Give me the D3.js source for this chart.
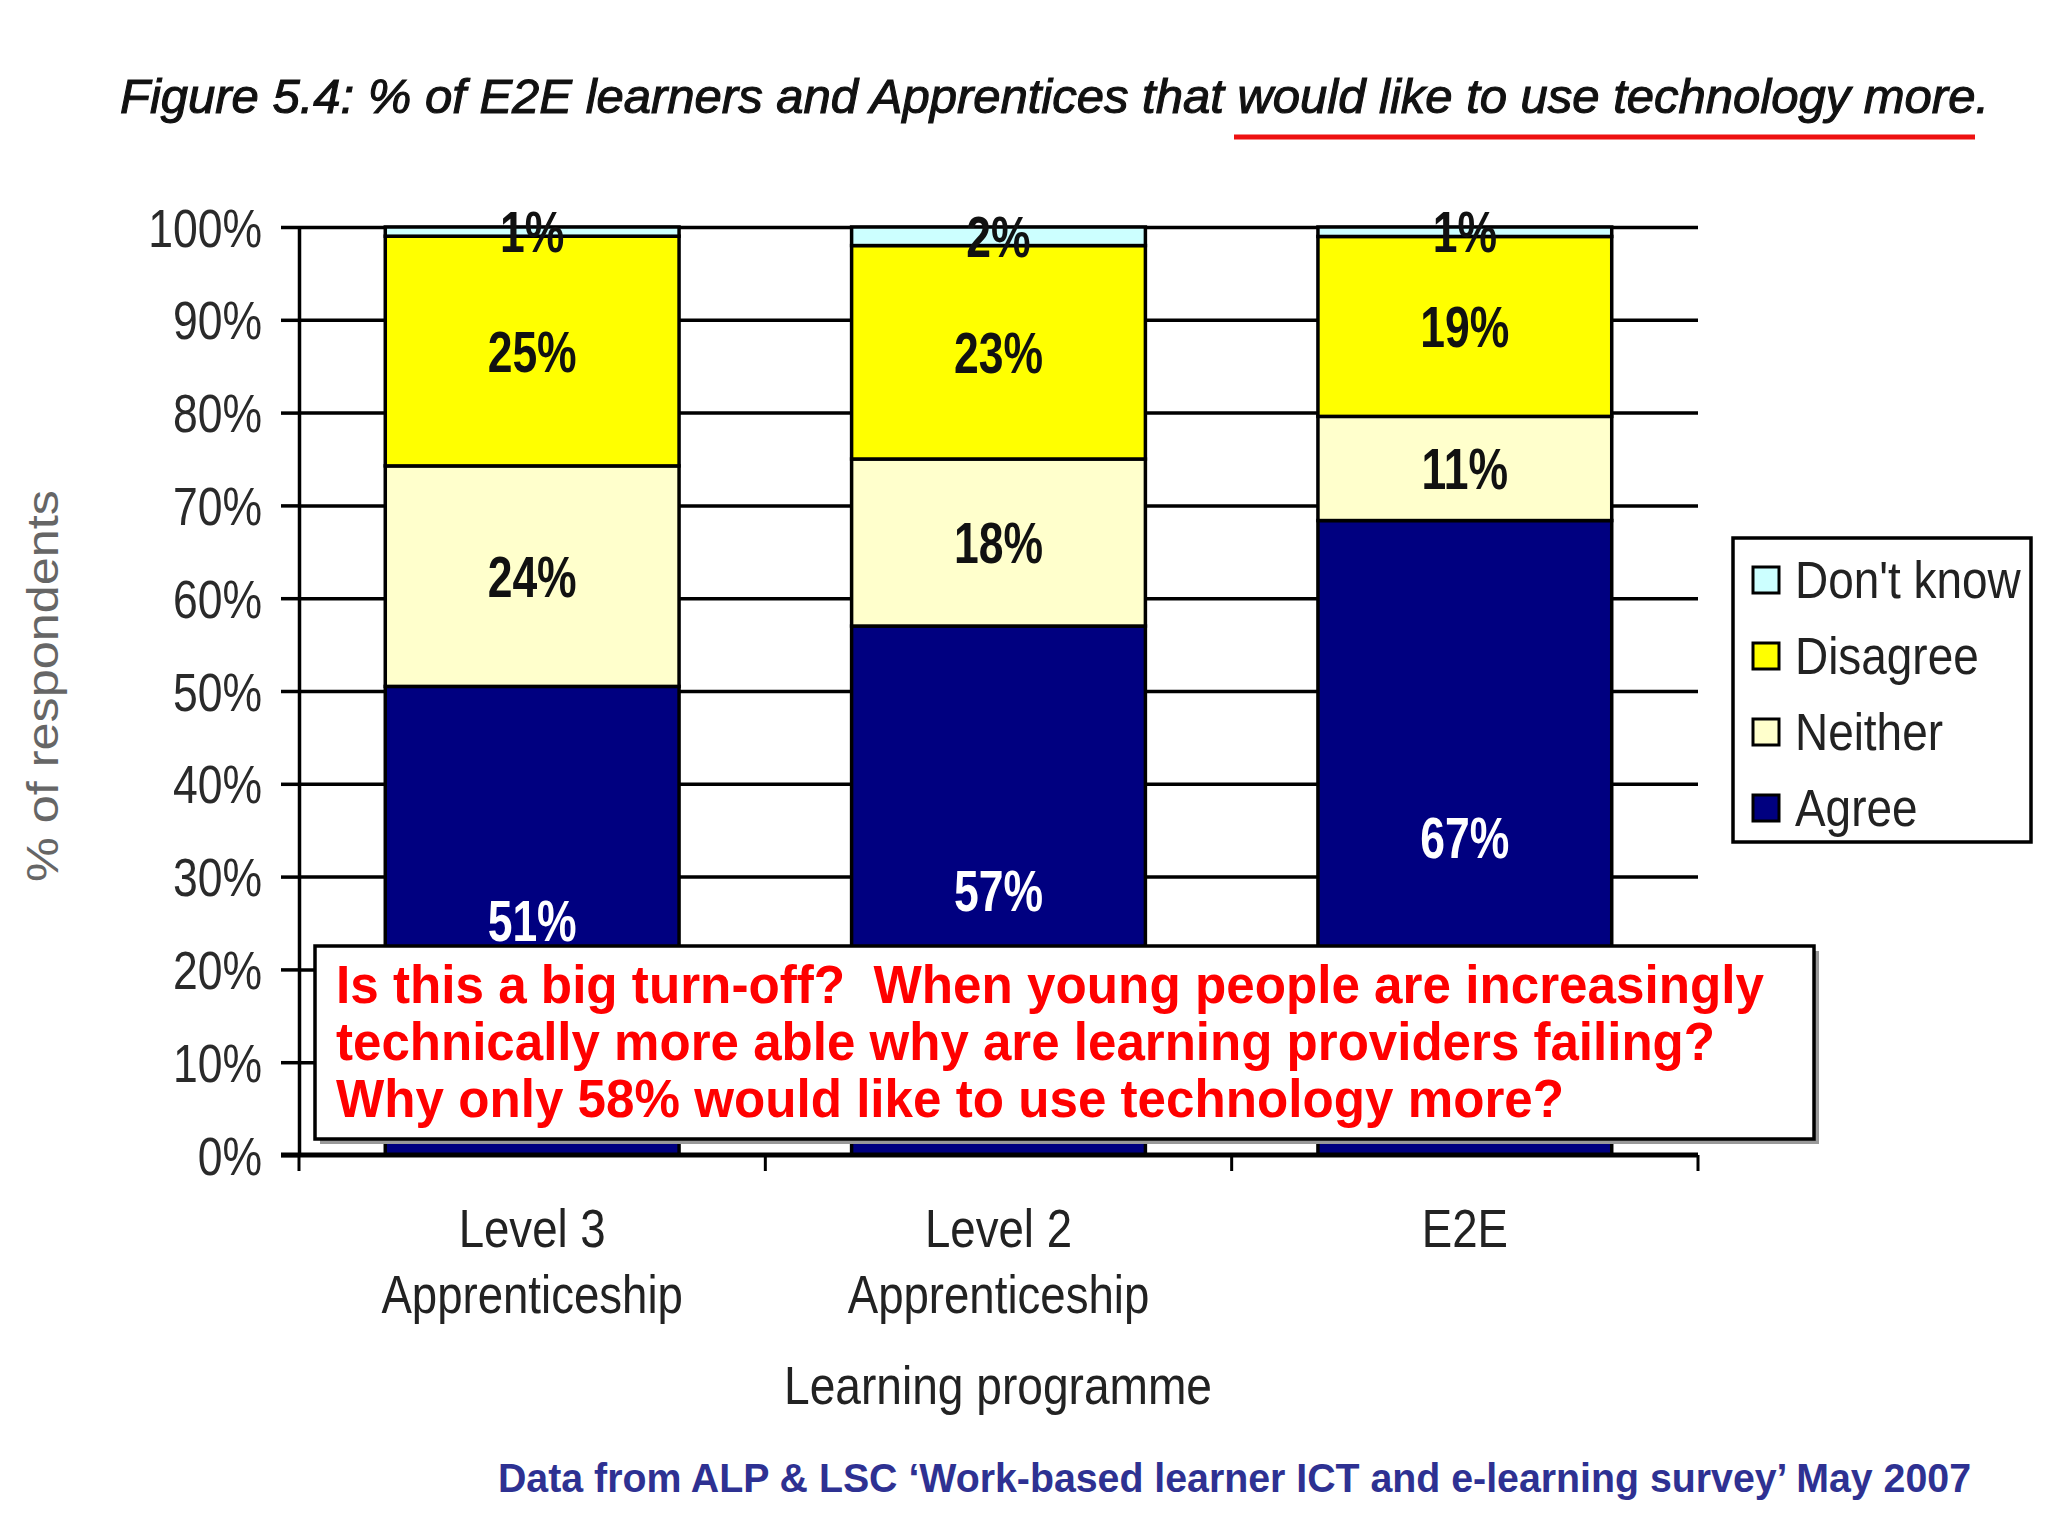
<!DOCTYPE html>
<html>
<head>
<meta charset="utf-8">
<script src="https://cdn.jsdelivr.net/npm/d3@7"></script>
<style>
  html, body { margin: 0; padding: 0; background: #fff; }
  svg { display: block; font-family: Arial, "Liberation Sans", sans-serif; }
</style>
</head>
<body>
<svg id="chart" width="2048" height="1536"></svg>
<script>
// ---------------- data ----------------
const categories = ["Level 3 Apprenticeship", "Level 2 Apprenticeship", "E2E"];
const categoryLines = [["Level 3", "Apprenticeship"], ["Level 2", "Apprenticeship"], ["E2E"]];
const seriesKeys = ["Agree", "Neither", "Disagree", "Don't know"];
const agree = [51, 57, 67];
const neither = [24, 18, 11];
const disagree = [25, 23, 19];
const dontKnow = [1, 2, 1];
const seriesColors = ["#000080", "#FFFFCC", "#FFFF00", "#CCFFFF"];
const labelColors = ["#ffffff", "#111111", "#111111", "#111111"];
const legendOrder = ["Don't know", "Disagree", "Neither", "Agree"];
const yTicks = [0, 0.1, 0.2, 0.3, 0.4, 0.5, 0.6, 0.7, 0.8, 0.9, 1.0];
const titleText = "Figure 5.4: % of E2E learners and Apprentices that would like to use technology more.";
const yTitle = "% of respondents";
const xTitle = "Learning programme";
const noteLines = [
  "Is this a big turn-off?  When young people are increasingly",
  "technically more able why are learning providers failing?",
  "Why only 58% would like to use technology more?"
];
const sourceText = "Data from ALP & LSC \u2018Work-based learner ICT and e-learning survey\u2019 May 2007";

(function () {
// table for the stack
const table = categories.map((c, i) => ({
  cat: c, "Agree": agree[i], "Neither": neither[i], "Disagree": disagree[i], "Don't know": dontKnow[i]
}));

// ---------------- layout ----------------
const svg = d3.select("#chart");
const pLeft = 299, pRight = 1698, pTop = 227, pBottom = 1155;

const x = d3.scaleBand().domain(categories).range([pLeft, pRight]).paddingInner(0.37).paddingOuter(0.185);
const y = d3.scaleLinear().domain([0, 1]).range([pBottom, pTop]);
const color = d3.scaleOrdinal().domain(seriesKeys).range(seriesColors);
const labColor = d3.scaleOrdinal().domain(seriesKeys).range(labelColors);

function squeeze(sel, factor) {
  sel.each(function () {
    const w = this.getComputedTextLength();
    d3.select(this).attr("textLength", w * factor).attr("lengthAdjust", "spacingAndGlyphs");
  });
}
function fitTo(sel, width) {
  sel.attr("textLength", width).attr("lengthAdjust", "spacingAndGlyphs");
}

// title
svg.append("text")
  .attr("x", 120).attr("y", 113)
  .attr("font-size", 49).attr("font-style", "italic")
  .attr("fill", "#111").attr("stroke", "#111").attr("stroke-width", 1.1)
  .text(titleText).call(fitTo, 1869);
svg.append("line")
  .attr("x1", 1234).attr("x2", 1975).attr("y1", 137).attr("y2", 137)
  .attr("stroke", "#ee1111").attr("stroke-width", 5);

// gridlines
const grid = svg.append("g").attr("transform", `translate(${pLeft},0)`)
  .call(d3.axisLeft(y).tickValues(yTicks.slice(1)).tickSize(-(pRight - pLeft)).tickFormat(""));
grid.select(".domain").remove();
grid.selectAll(".tick line").attr("stroke", "#000").attr("stroke-width", 3.5);

// bars
const stacked = d3.stack().keys(seriesKeys).offset(d3.stackOffsetExpand)(table);
const layers = svg.append("g").selectAll("g").data(stacked).join("g")
  .attr("fill", d => color(d.key));
layers.selectAll("rect").data(d => d).join("rect")
  .attr("x", d => x(d.data.cat))
  .attr("width", x.bandwidth())
  .attr("y", d => y(d[1]))
  .attr("height", d => y(d[0]) - y(d[1]))
  .attr("stroke", "#000").attr("stroke-width", 3.5);

// y axis (ticks + labels)
const yAxis = svg.append("g").attr("transform", `translate(${pLeft},0)`)
  .call(d3.axisLeft(y).tickValues(yTicks).tickSize(18).tickSizeOuter(0).tickPadding(19).tickFormat(d3.format(".0%")));
yAxis.select(".domain").attr("stroke", "#000").attr("stroke-width", 3.5);
yAxis.selectAll(".tick line").attr("stroke", "#000").attr("stroke-width", 3.5);
yAxis.selectAll(".tick text")
  .attr("font-size", 53).attr("font-family", "Arial, 'Liberation Sans', sans-serif")
  .attr("fill", "#2a2a2a").attr("dy", "0.36em")
  .call(squeeze, 0.84);

// x axis line and boundary ticks
svg.append("line").attr("x1", pLeft - 18).attr("x2", pRight).attr("y1", pBottom).attr("y2", pBottom)
  .attr("stroke", "#000").attr("stroke-width", 5);
const bounds = d3.range(categories.length + 1).map(i => x.range()[0] + i * x.step());
svg.append("g").selectAll("line").data(bounds).join("line")
  .attr("x1", d => d).attr("x2", d => d).attr("y1", pBottom).attr("y2", pBottom + 16)
  .attr("stroke", "#000").attr("stroke-width", 3);

// category labels
const xl = svg.append("g").selectAll("text").data(categories).join("text")
  .attr("x", d => x(d) + x.bandwidth() / 2)
  .attr("text-anchor", "middle").attr("font-size", 53).attr("fill", "#222");
xl.selectAll("tspan").data((d, i) => categoryLines[i]).join("tspan")
  .attr("x", function () { return this.parentNode.getAttribute("x"); })
  .attr("y", (d, i) => 1247 + i * 66)
  .text(d => d);
xl.selectAll("tspan").call(squeeze, 0.86);

// axis titles
svg.append("text").attr("x", 998).attr("y", 1404).attr("text-anchor", "middle")
  .attr("font-size", 53).attr("fill", "#222").text(xTitle).call(fitTo, 428);
svg.append("text").attr("transform", "translate(42,686) rotate(-90)")
  .attr("text-anchor", "middle").attr("dominant-baseline", "central")
  .attr("font-size", 44).attr("fill", "#666").text(yTitle).call(fitTo, 392);

// value labels
const labelData = [];
stacked.forEach(s => s.forEach((p, i) => labelData.push({ key: s.key, lo: p[0], hi: p[1], v: table[i][s.key], cat: p.data.cat })));
svg.append("g").selectAll("text").data(labelData).join("text")
  .attr("x", d => x(d.cat) + x.bandwidth() / 2)
  .attr("y", d => y((d.lo + d.hi) / 2))
  .attr("dy", "0.36em")
  .attr("text-anchor", "middle")
  .attr("font-size", 57).attr("font-weight", "bold")
  .attr("fill", d => labColor(d.key))
  .text(d => d.v + "%")
  .call(squeeze, 0.78);

// legend
const lg = svg.append("g");
lg.append("rect").attr("x", 1733).attr("y", 538).attr("width", 298).attr("height", 304)
  .attr("fill", "#fff").attr("stroke", "#000").attr("stroke-width", 3.5);
const li = lg.selectAll("g.item").data(legendOrder).join("g").attr("class", "item")
  .attr("transform", (d, i) => `translate(1753,${580 + i * 76})`);
li.append("rect").attr("x", 0).attr("y", -13).attr("width", 26).attr("height", 26)
  .attr("fill", d => color(d)).attr("stroke", "#000").attr("stroke-width", 3);
li.append("text").attr("x", 42).attr("dy", "0.36em").attr("font-size", 51).attr("fill", "#222")
  .text(d => d).call(squeeze, 0.9);

// annotation box
svg.append("rect").attr("x", 320).attr("y", 951).attr("width", 1499).attr("height", 193).attr("fill", "#999");
svg.append("rect").attr("x", 315).attr("y", 946).attr("width", 1499).attr("height", 193)
  .attr("fill", "#fff").attr("stroke", "#000").attr("stroke-width", 3.5);
const noteWidths = [1428, 1379, 1228];
svg.append("g").selectAll("text").data(noteLines).join("text")
  .attr("x", 336).attr("y", (d, i) => 1003 + i * 57)
  .attr("font-size", 53).attr("font-weight", "bold").attr("fill", "#ff0000")
  .attr("xml:space", "preserve").style("white-space", "pre")
  .text(d => d)
  .each(function (d, i) { d3.select(this).call(fitTo, noteWidths[i]); });

// source
svg.append("text").attr("x", 498).attr("y", 1492)
  .attr("font-size", 40).attr("font-weight", "bold").attr("fill", "#2e3192")
  .text(sourceText).call(fitTo, 1473);
})();
</script>
</body>
</html>
